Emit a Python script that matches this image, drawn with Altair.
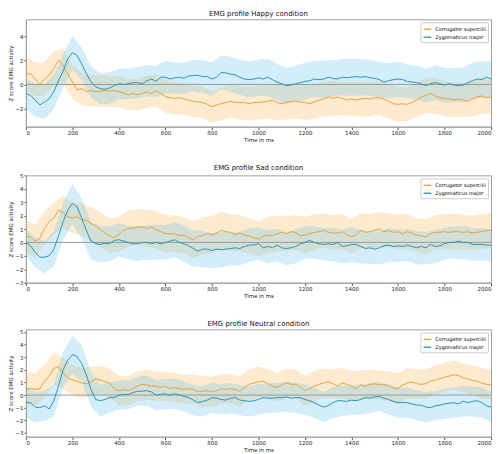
import altair as alt
import pandas as pd

TIMES = list(range(0, 2001, 20))
BAND_TIMES = TIMES[::2]
MUSCLES = ["Corrugator supercilii", "Zygomaticus major"]
TITLES = ["EMG profile Happy condition", "EMG profile Sad condition", "EMG profile Neutral condition"]
X_TICKS = list(range(0, 2001, 200))
ONSET = [400]
ZERO = [0]

ORANGE = "#E5A23A"
BLUE = "#2B93B6"
ORANGE_FILL = "#FBB54E"
BLUE_FILL = "#62C3EE"

# ---- Happy ----
happy_corr = [0.87, 0.9, 0.45, 0.0, 0.45, 0.75, 1.3, 2.0, 1.55, 0.85,
              0.2, -0.45, -0.35, -0.6, -0.5, -0.6, -0.55, -0.5, -0.55, -0.5,
              -0.6, -0.7, -0.85, -0.75, -0.85, -0.75, -0.6, -0.75, -0.5, -0.75,
              -1.0, -1.1, -1.15, -1.1, -1.2, -1.3, -1.4, -1.45, -1.5, -1.65,
              -1.85, -1.7, -1.6, -1.5, -1.4, -1.5, -1.5, -1.5, -1.6, -1.5,
              -1.5, -1.45, -1.4, -1.3, -1.5, -1.6, -1.5, -1.4, -1.4, -1.45,
              -1.5, -1.6, -1.45, -1.3, -1.2, -1.05, -1.15, -1.05, -1.15, -1.3,
              -1.2, -1.3, -1.2, -1.15, -1.2, -1.1, -1.1, -1.2, -1.4, -1.6,
              -1.65, -1.6, -1.65, -1.5, -1.3, -1.05, -0.9, -0.75, -0.95, -1.1,
              -1.15, -1.2, -1.3, -1.2, -1.3, -1.4, -1.2, -1.05, -0.95, -1.1,
              -1.05]
happy_zyg = [-0.76, -0.9, -1.3, -1.7, -1.45, -1.2, -0.6, 0.3, 1.1, 2.1,
             2.65, 2.4, 1.7, 0.9, 0.2, -0.2, -0.35, -0.4, -0.3, -0.1,
             0.05, 0.0, 0.05, 0.15, 0.15, 0.05, 0.3, 0.45, 0.25, 0.6,
             0.6, 0.45, 0.55, 0.6, 0.5, 0.7, 0.75, 0.75, 0.65, 0.65,
             0.45, 0.6, 1.0, 0.95, 0.85, 0.8, 0.6, 0.45, 0.4, 0.45,
             0.55, 0.45, 0.6, 0.4, 0.2, 0.05, -0.1, -0.05, 0.05, 0.15,
             0.25, 0.3, 0.45, 0.4, 0.45, 0.6, 0.5, 0.45, 0.6, 0.55,
             0.6, 0.65, 0.6, 0.65, 0.55, 0.5, 0.4, 0.2, 0.3, 0.4,
             0.45, 0.4, 0.25, 0.2, 0.15, 0.05, -0.1, 0.05, 0.15, 0.05,
             -0.05, 0.05, -0.05, -0.1, -0.05, 0.15, 0.3, 0.45, 0.4, 0.6,
             0.45]
happy_corr_sd = [1.35, 1.4, 1.4, 1.45, 1.45, 1.4, 1.35, 1.3, 1.3, 1.3,
                 1.3, 1.3, 1.3, 1.35, 1.35, 1.35, 1.35, 1.3, 1.3, 1.3,
                 1.3, 1.35, 1.35, 1.4, 1.4, 1.4, 1.45, 1.45, 1.4, 1.45,
                 1.45, 1.4, 1.45, 1.45, 1.4, 1.4, 1.45, 1.45, 1.4, 1.45,
                 1.45, 1.4, 1.4, 1.45, 1.5, 1.45, 1.45, 1.4, 1.45, 1.45,
                 1.4]
happy_zyg_sd = [1.25, 1.35, 1.4, 1.45, 1.4, 1.4, 1.35, 1.3, 1.3, 1.3,
                1.25, 1.25, 1.3, 1.3, 1.3, 1.35, 1.3, 1.3, 1.3, 1.35,
                1.4, 1.4, 1.45, 1.45, 1.5, 1.5, 1.55, 1.5, 1.5, 1.5,
                1.55, 1.5, 1.55, 1.5, 1.5, 1.55, 1.5, 1.5, 1.45, 1.45,
                1.45, 1.4, 1.4, 1.4, 1.45, 1.45, 1.4, 1.45, 1.5, 1.5,
                1.5]

# ---- Sad ----
sad_corr = [0.45, 0.4, 0.1, 0.3, 1.05, 1.55, 1.8, 2.4, 2.25, 1.9,
            1.85, 1.9, 1.7, 1.65, 1.4, 1.25, 0.95, 0.7, 0.5, 0.35,
            0.6, 0.9, 1.05, 1.05, 1.15, 1.15, 1.05, 1.15, 0.95, 0.8,
            0.65, 0.65, 0.65, 0.5, 0.55, 0.35, 0.2, 0.45, 0.5, 0.65,
            0.55, 0.7, 0.9, 0.8, 0.75, 0.55, 0.7, 0.55, 0.5, 0.35,
            0.25, 0.45, 0.55, 0.5, 0.65, 0.75, 0.65, 0.8, 0.75, 0.5,
            0.55, 0.65, 0.75, 0.8, 0.9, 0.75, 0.7, 0.7, 0.8, 0.55,
            0.45, 0.55, 0.9, 0.75, 0.8, 0.9, 1.0, 0.8, 0.9, 0.75,
            0.8, 0.65, 0.8, 0.7, 0.55, 0.5, 0.4, 0.65, 0.75, 0.75,
            0.8, 0.75, 0.8, 0.8, 0.75, 0.8, 0.7, 0.75, 0.8, 0.9,
            0.9]
sad_zyg = [0.0, -0.25, -0.75, -1.1, -1.1, -1.0, -0.5, 0.45, 1.55, 2.4,
           2.9, 2.65, 1.8, 0.9, 0.1, -0.1, -0.15, -0.05, -0.1, 0.15,
           0.2, 0.1, 0.0, -0.1, -0.1, 0.0, 0.0, -0.1, 0.0, -0.1,
           0.0, 0.1, 0.2, 0.0, -0.1, -0.25, -0.45, -0.65, -0.5, -0.5,
           -0.6, -0.5, -0.55, -0.5, -0.45, -0.4, -0.45, -0.3, -0.2, -0.2,
           -0.1, -0.4, -0.3, -0.4, -0.2, -0.4, -0.45, -0.4, -0.3, -0.1,
           0.0, 0.15, 0.0, -0.1, -0.15, -0.1, -0.15, 0.0, -0.3, -0.25,
           -0.15, -0.15, -0.3, -0.45, -0.4, -0.5, -0.4, -0.25, -0.2, -0.3,
           -0.25, -0.3, -0.2, -0.3, -0.4, -0.3, -0.4, -0.15, -0.3, -0.25,
           -0.1, 0.0, 0.0, 0.1, 0.0, 0.0, -0.15, -0.15, -0.15, -0.2,
           -0.2]
sad_corr_sd = [1.2, 1.25, 1.25, 1.2, 1.2, 1.15, 1.2, 1.25, 1.3, 1.3,
               1.3, 1.35, 1.35, 1.4, 1.4, 1.4, 1.35, 1.35, 1.4, 1.4,
               1.4, 1.4, 1.35, 1.35, 1.3, 1.3, 1.35, 1.35, 1.3, 1.3,
               1.35, 1.35, 1.3, 1.3, 1.35, 1.3, 1.3, 1.3, 1.3, 1.25,
               1.3, 1.3, 1.25, 1.3, 1.3, 1.3, 1.35, 1.3, 1.3, 1.3,
               1.3]
sad_zyg_sd = [1.0, 1.1, 1.2, 1.3, 1.4, 1.5, 1.5, 1.4, 1.35, 1.3,
              1.25, 1.25, 1.3, 1.3, 1.3, 1.3, 1.3, 1.35, 1.35, 1.35,
              1.3, 1.3, 1.25, 1.25, 1.25, 1.2, 1.25, 1.2, 1.25, 1.25,
              1.2, 1.2, 1.2, 1.25, 1.25, 1.3, 1.25, 1.2, 1.25, 1.25,
              1.2, 1.2, 1.25, 1.2, 1.25, 1.2, 1.2, 1.25, 1.2, 1.2,
              1.2]

# ---- Neutral ----
neut_corr = [0.5, 0.5, 0.45, 0.5, 1.1, 1.5, 2.1, 2.25, 1.75, 1.35,
             1.2, 1.1, 0.95, 0.9, 1.05, 1.3, 1.2, 1.05, 0.95, 0.5,
             0.35, 0.45, 0.35, 0.5, 0.7, 0.85, 0.8, 0.7, 0.7, 0.6,
             0.7, 0.5, 0.6, 0.5, 0.45, 0.5, 0.45, 0.25, 0.3, 0.35,
             0.25, 0.35, 0.5, 0.45, 0.5, 0.45, 0.3, 0.6, 0.85, 0.95,
             1.05, 1.1, 0.9, 0.7, 0.6, 0.8, 0.95, 0.85, 0.85, 0.6,
             0.35, 0.5, 0.7, 0.85, 0.95, 1.05, 0.9, 0.7, 0.95, 0.85,
             0.7, 0.5, 0.8, 0.7, 0.85, 0.9, 0.8, 0.85, 0.7, 0.55,
             0.5, 0.8, 0.95, 1.05, 0.9, 0.85, 0.9, 1.1, 1.2, 1.3,
             1.4, 1.5, 1.6, 1.55, 1.35, 1.3, 1.15, 1.1, 0.95, 0.85,
             0.8]
neut_zyg = [-0.6, -0.6, -0.95, -1.0, -0.85, -1.1, -0.45, 0.7, 2.0, 2.75,
            3.2, 3.05, 2.5, 1.6, 0.45, -0.35, -0.45, -0.35, -0.2, -0.2,
            0.0, 0.05, 0.05, 0.2, 0.3, 0.3, 0.35, 0.25, 0.0, 0.05,
            0.1, 0.0, 0.1, 0.0, -0.1, -0.2, -0.4, -0.6, -0.5, -0.4,
            -0.2, -0.25, -0.35, -0.4, -0.25, -0.2, -0.4, -0.45, -0.5, -0.45,
            -0.35, -0.2, -0.25, -0.25, -0.2, -0.2, -0.15, -0.25, -0.2, -0.2,
            -0.35, -0.45, -0.6, -0.8, -0.95, -0.85, -0.6, -0.45, -0.45, -0.5,
            -0.4, -0.45, -0.35, -0.2, -0.25, -0.15, -0.1, -0.25, -0.35, -0.5,
            -0.6, -0.6, -0.6, -0.7, -0.8, -0.8, -0.95, -1.0, -0.85, -0.8,
            -0.7, -0.65, -0.6, -0.7, -0.5, -0.6, -0.5, -0.45, -0.6, -0.85,
            -0.95]
neut_corr_sd = [1.3, 1.3, 1.3, 1.25, 1.25, 1.2, 1.2, 1.15, 1.15, 1.15,
                1.15, 1.15, 1.2, 1.2, 1.15, 1.15, 1.15, 1.15, 1.15, 1.2,
                1.2, 1.15, 1.15, 1.2, 1.2, 1.2, 1.15, 1.15, 1.15, 1.15,
                1.2, 1.2, 1.15, 1.15, 1.2, 1.2, 1.15, 1.15, 1.15, 1.2,
                1.2, 1.2, 1.15, 1.15, 1.15, 1.15, 1.15, 1.15, 1.2, 1.2,
                1.2]
neut_zyg_sd = [1.15, 1.2, 1.2, 1.25, 1.4, 1.5, 1.45, 1.35, 1.25, 1.2,
               1.15, 1.15, 1.15, 1.2, 1.2, 1.2, 1.2, 1.2, 1.2, 1.2,
               1.2, 1.2, 1.2, 1.2, 1.2, 1.2, 1.15, 1.2, 1.2, 1.2,
               1.2, 1.2, 1.2, 1.2, 1.2, 1.15, 1.2, 1.2, 1.15, 1.2,
               1.2, 1.2, 1.2, 1.2, 1.15, 1.2, 1.2, 1.2, 1.2, 1.2,
               1.2]

Y_DOMAINS = [[-3.5, 5.4], [-3.0, 5.0], [-3.3, 5.2]]
Y_TICKS = [[-2, 0, 2, 4], [-3, -2, -1, 0, 1, 2, 3, 4, 5], [-3, -2, -1, 0, 1, 2, 3, 4, 5]]

W = 468
H = 108


def band_df(mean, sd):
    centers = mean[::2]
    return pd.DataFrame({
        "t": BAND_TIMES,
        "lo": [c - s for c, s in zip(centers, sd)],
        "hi": [c + s for c, s in zip(centers, sd)],
    })


def panel(title, corr, zyg, corr_sd, zyg_sd, ydom, yticks):
    xenc = alt.X("t:Q", scale=alt.Scale(domain=[0, 2000], nice=False),
                 axis=alt.Axis(values=X_TICKS, title="Time in ms", format="d"))
    ysc = alt.Scale(domain=ydom, nice=False, zero=False)
    yax = alt.Axis(values=yticks, title="Z score EMG activity", format="d",
                   titlePadding=1, labelPadding=1, tickSize=2)

    lines = pd.DataFrame({
        "t": TIMES + TIMES,
        "v": corr + zyg,
        "m": [MUSCLES[0]] * len(TIMES) + [MUSCLES[1]] * len(TIMES),
    })

    b_corr = alt.Chart(band_df(corr, corr_sd)).mark_area(
        color=ORANGE_FILL, opacity=0.28, clip=True).encode(
        x=xenc, y=alt.Y("lo:Q", scale=ysc, axis=yax), y2="hi:Q")
    b_zyg = alt.Chart(band_df(zyg, zyg_sd)).mark_area(
        color=BLUE_FILL, opacity=0.28, clip=True).encode(
        x=xenc, y=alt.Y("lo:Q", scale=ysc, axis=yax), y2="hi:Q")

    zero = alt.Chart(pd.DataFrame({"y": ZERO})).mark_rule(
        color="#9a9a9a", strokeWidth=1).encode(y=alt.Y("y:Q", scale=ysc, axis=yax))
    onset = alt.Chart(pd.DataFrame({"x": ONSET})).mark_rule(
        color="#666666", strokeWidth=1).encode(x=xenc)

    ln = alt.Chart(lines).mark_line(strokeWidth=1.0, clip=True).encode(
        x=xenc,
        y=alt.Y("v:Q", scale=ysc, axis=yax),
        color=alt.Color("m:N", scale=alt.Scale(domain=MUSCLES, range=[ORANGE, BLUE]),
                        legend=alt.Legend(title=None, orient="top-right")),
        order=alt.Order("t:Q"),
    )
    return alt.layer(b_corr, b_zyg, zero, onset, ln).properties(
        width=W, height=H, title=alt.TitleParams(title, anchor="middle"))


chart = alt.vconcat(
    panel(TITLES[0], happy_corr, happy_zyg, happy_corr_sd, happy_zyg_sd, Y_DOMAINS[0], Y_TICKS[0]),
    panel(TITLES[1], sad_corr, sad_zyg, sad_corr_sd, sad_zyg_sd, Y_DOMAINS[1], Y_TICKS[1]),
    panel(TITLES[2], neut_corr, neut_zyg, neut_corr_sd, neut_zyg_sd, Y_DOMAINS[2], Y_TICKS[2]),
    spacing=20,
).resolve_scale(color="independent").properties(
    padding={"left": 0, "top": 0, "right": 0, "bottom": 0}
).configure(
    font="DejaVu Sans",
).configure_view(
    stroke="#a0a0a0", strokeWidth=1
).configure_axis(
    grid=False, labelFontSize=5.5, titleFontSize=5.5, titleFontWeight="normal",
    labelColor="#222", titleColor="#222", tickSize=3, labelPadding=1,
    titlePadding=1, domainColor="#a0a0a0", tickColor="#555",
    labelFont="DejaVu Sans", titleFont="DejaVu Sans",
).configure_title(
    fontSize=7, fontWeight="normal", color="#111", offset=2, font="DejaVu Sans"
).configure_legend(
    fillColor="white", strokeColor="#cccccc", padding=2, labelFontSize=5,
    symbolType="stroke", symbolStrokeWidth=1.3, symbolSize=60, rowPadding=0,
    offset=3, cornerRadius=1, labelFont="DejaVu Sans", labelOffset=3,
)

chart.save("out.html", embed_options={"renderer": "svg", "actions": False})
